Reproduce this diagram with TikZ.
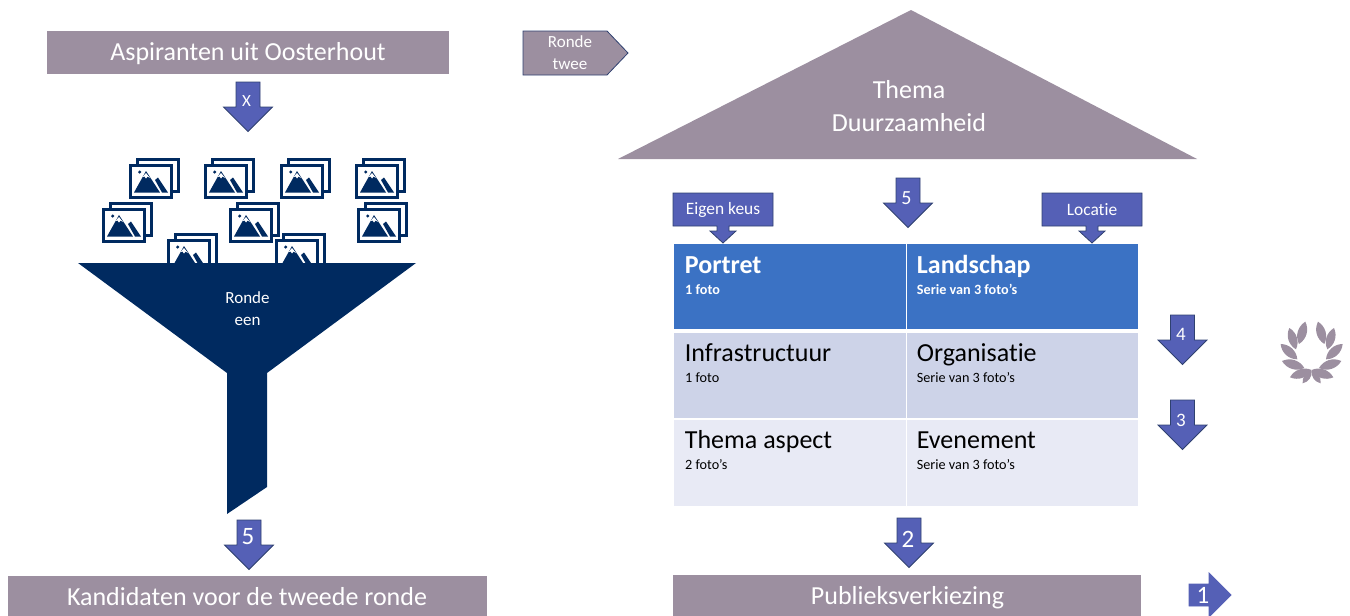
\documentclass[tikz,border=0pt]{standalone}
\usepackage{fontspec}
\setmainfont[Ligatures=NoCommon]{Carlito}
\definecolor{mauve}{HTML}{9C8FA0}
\definecolor{navy}{HTML}{002A60}
\definecolor{arrowfill}{HTML}{5560B6}
\definecolor{arrowline}{HTML}{2F4170}
\definecolor{headblue}{HTML}{3B72C4}
\definecolor{rowmid}{HTML}{CDD3E8}
\definecolor{rowlow}{HTML}{E8EAF5}
\tikzset{
  banner/.style={fill=mauve,draw=none,inner sep=0pt},
  bannertext/.style={inner sep=0pt,text=white,font=\fontsize{26}{30}\selectfont},
  cell/.style={anchor=north west,inner sep=0pt,draw=none},
  arrowshape/.style={fill=arrowfill,draw=arrowline,line width=0.8pt,line join=miter},
  arrowtext/.style={text=white,inner sep=0pt},
  titletext/.style={anchor=base west,inner sep=0pt,font=\fontsize{26}{30}\selectfont},
  subtext/.style={anchor=base west,inner sep=0pt,font=\fontsize{14.2}{16}\selectfont},
  leaf/.style={fill=mauve,draw=none},
  iconframe/.style={draw=navy,line width=3pt,fill=white},
  pics/photo/.style={code={
    \draw[iconframe] (8,1.5) rectangle (49.5,33);
    \draw[iconframe] (1.5,7.5) rectangle (42.5,39);
    \fill[navy] (5,34.5) -- (17,13) -- (31,34.5) -- cycle;
    \fill[white] (13.5,19) -- (17,15) -- (21,20) -- (18.5,18.5) -- (17,20.5) -- (15.5,18.5) -- cycle;
    \fill[navy] (26,22) -- (29,19.5) -- (39,34.5) -- (33,34.5) -- cycle;
    \fill[navy] (10.7,14) circle (1.7);
  }}
}
% name, centre x, top y, text, font size, label x, label y
\newcommand{\dnarrow}[7]{%
  \draw[arrowshape] (#2-12,#3) -- (#2+12,#3) -- (#2+12,#3+25) -- (#2+24.5,#3+25)
    -- (#2,#3+49.5) -- (#2-24.5,#3+25) -- (#2-12,#3+25) -- cycle;
  \node[arrowtext,font=\fontsize{#5}{#5}\selectfont] (#1) at (#6,#7) {#4};
}
% name, centre x, text
\newcommand{\calloutbox}[3]{%
  \draw[arrowshape] (#2-50,193) -- (#2+50,193) -- (#2+50,226) -- (#2+6,226) -- (#2+6,231)
    -- (#2+13,231) -- (#2,243) -- (#2-13,231) -- (#2-6,231) -- (#2-6,226) -- (#2-50,226) -- cycle;
  \node[arrowtext,font=\fontsize{17.4}{20}\selectfont] (#1) at (#2,210) {#3};
}
\newcommand{\laurelleaf}[4]{%
  \fill[leaf] (#1,#2) to[bend left=42] (#3,#4) to[bend left=42] (#1,#2);
  \fill[leaf] (970-#1,#2) to[bend right=42] (970-#3,#4) to[bend right=42] (970-#1,#2);
}
\begin{document}
\begin{tikzpicture}[x=1pt,y=-1pt]
\useasboundingbox (0,0) rectangle (1350,616);

% top-left banner and arrow
\node[banner,anchor=north west,minimum width=402pt,minimum height=43pt] (aspiranten) at (47,31) {};
\node[bannertext] (aspirantentext) at (248,53.5) {Aspiranten uit Oosterhout};
\dnarrow{ax}{248}{82}{X}{17}{246.5}{101.5}

% photo icons
\pic at (167,233) {photo};
\pic at (275,233) {photo};
\pic at (129,158) {photo};
\pic at (204,158) {photo};
\pic at (280,158) {photo};
\pic at (355,158) {photo};
\pic at (102,202) {photo};
\pic at (229,202) {photo};
\pic at (357,202) {photo};

% funnel
\fill[navy] (78,263) -- (416,263) -- (267,373) -- (267,487) -- (227,514) -- (227,373) -- cycle;
\node[text=white,inner sep=0pt,align=center,font=\fontsize{17}{22}\selectfont] (rondeeen) at (247.5,308.5) {Ronde\\een};

\dnarrow{afive}{249}{520}{5}{25}{248}{537}
\node[banner,anchor=north west,minimum width=479pt,minimum height=40pt] (kandidaten) at (8,576) {};
\node[bannertext] (kandidatentext) at (247,597) {Kandidaten voor de tweede ronde};

% ronde twee
\draw[fill=mauve,draw=arrowline,line width=0.8pt] (523,31) -- (607,31) -- (628,53) -- (607,75) -- (523,75) -- cycle;
\node[text=white,inner sep=0pt,align=center,font=\fontsize{17}{22}\selectfont] (rondetwee) at (570,52.5) {Ronde\\twee};

% roof
\fill[mauve] (911,10) -- (1197,159) -- (618,159) -- cycle;
\node[text=white,inner sep=0pt,align=center,font=\fontsize{26}{33}\selectfont] (thema) at (909,106.5) {Thema\\Duurzaamheid};

\dnarrow{bfive}{908}{178}{5}{20}{906.5}{198.5}
\calloutbox{eigen}{723}{Eigen keus}
\calloutbox{locatie}{1092}{Locatie}

% table
\node[cell,fill=headblue,minimum width=231.5pt,minimum height=85pt] (c11) at (674,244) {};
\node[cell,fill=headblue,minimum width=231pt,minimum height=85pt] (c12) at (906.7,244) {};
\node[cell,fill=rowmid,minimum width=231.5pt,minimum height=85pt] (c21) at (674,333) {};
\node[cell,fill=rowmid,minimum width=231pt,minimum height=85pt] (c22) at (906.7,333) {};
\node[cell,fill=rowlow,minimum width=231.5pt,minimum height=86pt] (c31) at (674,420) {};
\node[cell,fill=rowlow,minimum width=231pt,minimum height=86pt] (c32) at (906.7,420) {};

\node[titletext,text=white,font=\fontsize{26}{30}\selectfont\bfseries] (t11) at (684.7,273.7) {Portret};
\node[subtext,text=white,font=\fontsize{14.2}{16}\selectfont\bfseries] (s11) at (685,294) {1 foto};
\node[titletext,text=white,font=\fontsize{26}{30}\selectfont\bfseries] (t12) at (916.7,273.7) {Landschap};
\node[subtext,text=white,font=\fontsize{14.2}{16}\selectfont\bfseries] (s12) at (916.7,294) {Serie van 3 foto’s};
\node[titletext] (t21) at (684.7,361.5) {Infrastructuur};
\node[subtext] (s21) at (685,382) {1 foto};
\node[titletext] (t22) at (916.7,361.5) {Organisatie};
\node[subtext] (s22) at (916.7,382) {Serie van 3 foto’s};
\node[titletext] (t31) at (684.7,448.7) {Thema aspect};
\node[subtext] (s31) at (685,469) {2 foto’s};
\node[titletext] (t32) at (916.7,448.7) {Evenement};
\node[subtext] (s32) at (916.7,469) {Serie van 3 foto’s};

\dnarrow{afour}{1182.5}{315}{4}{19}{1181}{334}
\dnarrow{athree}{1182.5}{400}{3}{19}{1181}{420.5}
\dnarrow{atwo}{909}{518}{2}{25}{908}{539.5}

\node[banner,anchor=north west,minimum width=468pt,minimum height=41pt] (publiek) at (673,575) {};
\node[bannertext] (publiektext) at (907.5,598) {Publieksverkiezing};

% right arrow
\draw[arrowshape,draw=arrowfill] (1189,584) -- (1209,584) -- (1209,573) -- (1231,595) -- (1209,617) -- (1209,606) -- (1189,606) -- cycle;
\node[arrowtext,font=\fontsize{25}{25}\selectfont] (aone) at (1203,595.5) {1};

% laurel
\begin{scope}[shift={(1150,300)},x=0.3333pt,y=-0.3333pt]
\laurelleaf{466}{65}{447}{132}
\laurelleaf{418}{84}{438}{148}
\laurelleaf{392}{132}{442}{178}
\laurelleaf{396}{183}{463}{204}
\laurelleaf{420}{232}{485}{210}
\laurelleaf{458}{250}{485}{212}
\end{scope}
\end{tikzpicture}
\end{document}
